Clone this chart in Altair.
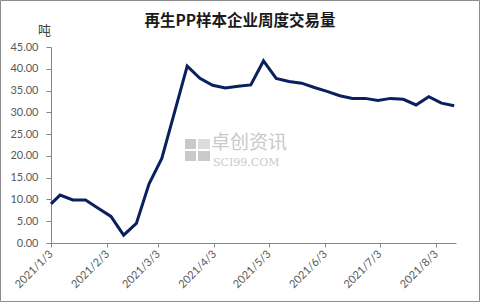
import altair as alt
import pandas as pd

dates = ["2021/01/03", "2021/01/08", "2021/01/15", "2021/01/22", "2021/01/29",
         "2021/02/05", "2021/02/12", "2021/02/19", "2021/02/26", "2021/03/05",
         "2021/03/12", "2021/03/19", "2021/03/26", "2021/04/02", "2021/04/09",
         "2021/04/16", "2021/04/23", "2021/04/30", "2021/05/07", "2021/05/14",
         "2021/05/21", "2021/05/28", "2021/06/04", "2021/06/11", "2021/06/18",
         "2021/06/25", "2021/07/02", "2021/07/09", "2021/07/16", "2021/07/23",
         "2021/07/30", "2021/08/06", "2021/08/13"]
values = [9.0, 11.0, 9.9, 9.9, 8.0, 6.1, 1.8, 4.5, 13.6, 19.4, 30.0, 40.6,
          37.8, 36.2, 35.6, 36.0, 36.3, 41.8, 37.8, 37.1, 36.7, 35.7, 34.8,
          33.8, 33.2, 33.2, 32.7, 33.2, 33.0, 31.7, 33.6, 32.1, 31.5]
tick_months = [1, 2, 3, 4, 5, 6, 7, 8]
y_ticks = [0, 5, 10, 15, 20, 25, 30, 35, 40, 45]
title_text = "再生PP样本企业周度交易量"
unit_text = "吨"
wm_cn = "卓创资讯"
wm_en = "SCI99.COM"

df = pd.DataFrame({"date": dates, "value": values})
one = pd.DataFrame({"a": [0]})

W, H = 405, 196

x_scale = alt.Scale(domain=[alt.DateTime(year=2021, month=1, date=3),
                            alt.DateTime(year=2021, month=8, date=14)])

line = alt.Chart(df).mark_line(color="#0a1f5e", strokeWidth=3, strokeJoin="miter").encode(
    x=alt.X("date:T", scale=x_scale,
            axis=alt.Axis(values=[alt.DateTime(year=2021, month=m, date=3) for m in tick_months],
                          format="%Y/%-m/%-d", formatType="time", labelAngle=-45,
                          labelAlign="right", labelBaseline="middle", labelPadding=5,
                          tickSize=4, title=None, labelOverlap=False, labelFlush=False)),
    y=alt.Y("value:Q", scale=alt.Scale(domain=[0, 45], nice=False),
            axis=alt.Axis(values=y_ticks, format=".2f", tickSize=5, labelPadding=8,
                          title=unit_text, titleAngle=0, titleX=-7, titleY=-17,
                          titleAlign="center", titleBaseline="middle",
                          titleFont="Noto Sans CJK SC", titleFontSize=13,
                          titleFontWeight="normal", titleColor="#404040")),
)

wm_color = "#c9c9c9"
logo = alt.layer(
    alt.Chart(one).mark_rect(color=wm_color).encode(x=alt.value(134), x2=alt.value(145), y=alt.value(92), y2=alt.value(102)),
    alt.Chart(one).mark_rect(color="#dcdcdc").encode(x=alt.value(147), x2=alt.value(159), y=alt.value(92), y2=alt.value(102)),
    alt.Chart(one).mark_rect(color=wm_color).encode(x=alt.value(134), x2=alt.value(145), y=alt.value(104), y2=alt.value(114)),
    alt.Chart(one).mark_rect(color=wm_color).encode(x=alt.value(147), x2=alt.value(159), y=alt.value(104), y2=alt.value(114)),
)
wm1 = alt.Chart(one).mark_text(text=wm_cn, font="Noto Sans CJK SC", fontSize=19, color=wm_color,
                               align="left", baseline="alphabetic").encode(x=alt.value(160), y=alt.value(101.5))
wm2 = alt.Chart(one).mark_text(text=wm_en, font="DejaVu Serif", fontSize=11, color=wm_color,
                               align="left", baseline="alphabetic").encode(x=alt.value(162), y=alt.value(119))

title = alt.Chart(one).mark_text(text=title_text, font="Noto Sans CJK SC", fontSize=15.5,
                                 fontWeight="bold", color="#1a1a1a", align="center",
                                 baseline="middle").encode(x=alt.value(189), y=alt.value(-26))

border = alt.Chart(one).mark_rect(fill=None, fillOpacity=0, stroke="#8c8c8c", strokeWidth=1).encode(
    x=alt.value(-50.5), x2=alt.value(428.5), y=alt.value(-46.5), y2=alt.value(254.5))

chart = alt.layer(logo, wm1, wm2, line, title, border).properties(
    width=W, height=H,
    autosize=alt.AutoSizeParams(type="none"),
    padding={"left": 51, "top": 47, "right": 25, "bottom": 60},
    background="white",
).configure_view(stroke=None).configure_axis(
    grid=False, domainColor="#868686", tickColor="#868686", labelColor="#595959",
    labelFont="Lato", labelFontSize=11,
)

chart.save("out.html", embed_options={"renderer": "svg", "actions": False})
